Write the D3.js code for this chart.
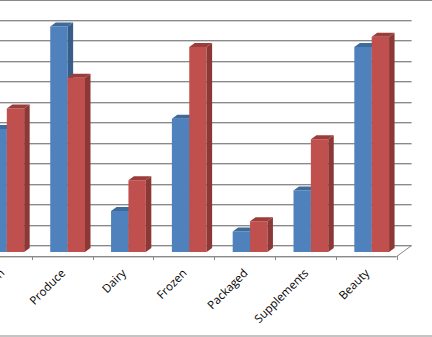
<!DOCTYPE html>
<html>
<head>
<meta charset="utf-8">
<script src="https://cdn.jsdelivr.net/npm/d3@7"></script>
<style>
  body { margin: 0; background: #fff; }
  svg { display: block; }
  .catLabel { font-family: "Open Sans", "Liberation Sans", sans-serif; font-size: 11.5px; fill: #000; }
</style>
</head>
<body>
<div class="chart"></div>
<script>
var svgWidth = 432;
var svgHeight = 337;

// chart data
var categories = ["Kitchen", "Produce", "Dairy", "Frozen", "Packaged", "Supplements", "Beauty"];
var blueValues = [6, 11, 2, 6.5, 1, 3, 10];
var redValues = [7, 8.5, 3.5, 10, 1.5, 5.5, 10.5];
var yTicks = d3.range(0, 13);

// 3d layout
var floorY = 256;          // front edge of the floor
var floorDepth = [15, 11];  // back wall offset
var barShift = [5.5, 4];    // bar front face offset from floor front
var barDepth = [5.5, 4];    // depth of a bar

var svg = d3.select(".chart")
  .append("svg")
  .attr("width", svgWidth)
  .attr("height", svgHeight);

var xScale = d3.scaleBand()
  .domain(categories)
  .range([-29.1, 396.6]);

var yScale = d3.scaleLinear()
  .domain([0, 12])
  .range([0, 246]);

// Gridlines on back wall
var wallBase = floorY - floorDepth[1];
var grid = svg.append("g");
yTicks.forEach(function(t) {
  var y = Math.round(wallBase - yScale(t));
  grid.append("line")
    .attr("x1", -5).attr("x2", 396.6 + floorDepth[0])
    .attr("y1", y + 1.5).attr("y2", y + 1.5)
    .attr("stroke", "#d4d4d4").attr("stroke-width", 1);
  grid.append("line")
    .attr("x1", -5).attr("x2", 396.6 + floorDepth[0])
    .attr("y1", y + 0.5).attr("y2", y + 0.5)
    .attr("stroke", "#8a8a8a").attr("stroke-width", 1);
});

// Floor
var fx = 396.6;
svg.append("path")
  .attr("d", "M-5," + (floorY + 0.5) + "H" + fx + "L" + (fx + floorDepth[0]) + "," + (floorY - floorDepth[1] + 0.5))
  .attr("fill", "none")
  .attr("stroke", "#8a8a8a");
svg.append("line")
  .attr("x1", -5).attr("x2", fx)
  .attr("y1", floorY + 1.5).attr("y2", floorY + 1.5)
  .attr("stroke", "#d0d0d0");

// category tick marks
var tickXs = categories.map(function(c) { return xScale(c); }).concat([xScale.range()[1]]);
svg.append("g").selectAll("line")
  .data(tickXs)
  .enter()
  .append("line")
  .attr("x1", function(d) { return Math.round(d) + 0.5; })
  .attr("x2", function(d) { return Math.round(d) + 0.5; })
  .attr("y1", floorY)
  .attr("y2", floorY + 4)
  .attr("stroke", "#8a8a8a");

// Bars
var band = xScale.bandwidth();
var barW = band / 3.5;
var gapSide = (band - 2 * barW) / 2;
var series = [
  { values: blueValues, front: "#4f81bd", side: "#385d8a", top: "#3f6a9c" },
  { values: redValues, front: "#c0504d", side: "#8c3836", top: "#9b3d3a" }
];

var barData = [];
categories.forEach(function(c, i) {
  series.forEach(function(s, j) {
    barData.push({ cat: c, value: s.values[i], k: j, s: s });
  });
});

var bars = svg.append("g").selectAll("g")
  .data(barData)
  .enter()
  .append("g");

function barX(d) { return xScale(d.cat) + barShift[0] + gapSide + d.k * barW; }
var barBottom = floorY - barShift[1];
function barTop(d) { return barBottom - yScale(d.value); }

bars.append("rect")
  .attr("x", barX)
  .attr("y", barTop)
  .attr("width", barW)
  .attr("height", function(d) { return yScale(d.value); })
  .attr("fill", function(d) { return d.s.front; });

bars.append("path")
  .attr("d", function(d) {
    var x = barX(d) + barW, t = barTop(d);
    return "M" + x + "," + t + "L" + (x + barDepth[0]) + "," + (t - barDepth[1]) +
      "L" + (x + barDepth[0]) + "," + (barBottom - barDepth[1]) + "L" + x + "," + barBottom + "Z";
  })
  .attr("fill", function(d) { return d.s.side; });

bars.append("path")
  .attr("d", function(d) {
    var x = barX(d), t = barTop(d);
    return "M" + x + "," + t + "L" + (x + barDepth[0]) + "," + (t - barDepth[1]) +
      "L" + (x + barW + barDepth[0]) + "," + (t - barDepth[1]) + "L" + (x + barW) + "," + t + "Z";
  })
  .attr("fill", function(d) { return d.s.top; });

// Category labels, rotated
svg.append("g").selectAll("text")
  .data(categories)
  .enter()
  .append("text")
  .attr("class", "catLabel")
  .attr("text-anchor", "end")
  .attr("transform", function(d) {
    return "translate(" + (xScale(d) + band / 2 + 1) + "," + 271 + ") rotate(-45)";
  })
  .attr("dy", "0.35em")
  .text(function(d) { return d; });

// chart border
svg.append("rect")
  .attr("x", -1).attr("y", 0.5)
  .attr("width", svgWidth + 2).attr("height", 335.5)
  .attr("fill", "none")
  .attr("stroke", "#8a8a8a");
</script>
</body>
</html>
